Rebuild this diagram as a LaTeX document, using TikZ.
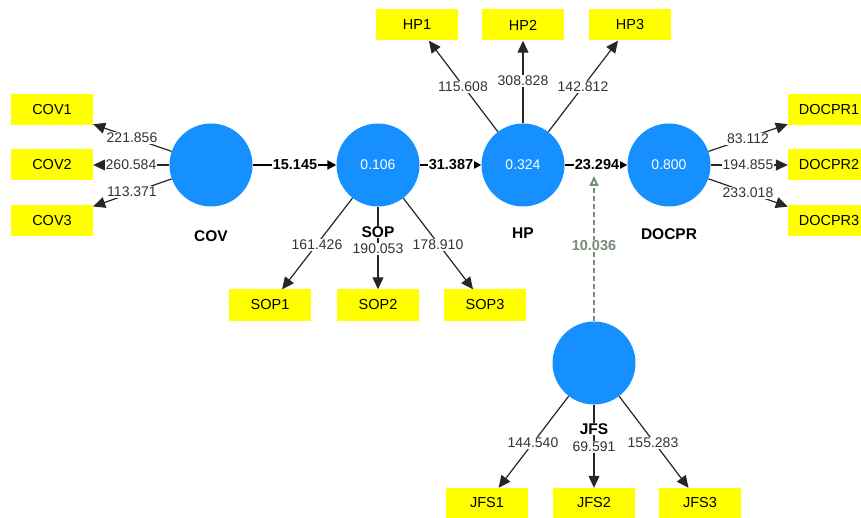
\documentclass[tikz,border=0pt]{standalone}
\usepackage{fontspec}
\setmainfont{Liberation Sans}
\usetikzlibrary{arrows.meta}
\definecolor{latentblue}{RGB}{22,144,255}
\definecolor{itemyellow}{RGB}{255,255,0}
\definecolor{modgreen}{RGB}{120,140,120}

\begin{document}
\begin{tikzpicture}[x=1pt,y=-1pt,
  latent/.style={circle,fill=latentblue,minimum size=83pt,inner sep=0pt,text=white,font=\fontsize{14}{16}\selectfont},
  item/.style={rectangle,fill=itemyellow,minimum width=82pt,minimum height=31pt,inner sep=0pt,font=\fontsize{14.5}{16}\selectfont},
  loading/.style={-{Triangle[length=12pt,width=11pt]},line width=1.2pt,black!85},
  inner/.style={-{Triangle[length=9pt,width=9pt]},line width=2pt},
  modarrow/.style={-{Triangle[open,length=10pt,width=9pt]},dashed,dash pattern=on 5pt off 3pt,line width=2pt,modgreen},
  wt/.style={fill=white,inner sep=1pt,font=\fontsize{14}{16}\selectfont,text=black!80},
  coef/.style={fill=white,inner sep=1pt,font=\bfseries\fontsize{14.5}{16}\selectfont},
  latname/.style={fill=white,inner sep=1pt,font=\bfseries\fontsize{15.5}{17}\selectfont}]
  \clip (0,0) rectangle (861,518);
  \fill[white] (0,0) rectangle (861,518);

  % latent variables
  \node[latent] (cov) at (211,165) {};
  \node[latent] (sop) at (378,165) {0.106};
  \node[latent] (hp) at (523,165) {0.324};
  \node[latent] (docpr) at (669,165) {0.800};
  \node[latent] (jfs) at (594,363) {};

  % indicators
  \node[item] (cov1) at (52,110) {COV1};
  \node[item] (cov2) at (52,165) {COV2};
  \node[item] (cov3) at (52,221) {COV3};
  \node[item] (hp1) at (417,25) {HP1};
  \node[item] (hp2) at (523,25) {HP2};
  \node[item] (hp3) at (630,25) {HP3};
  \node[item] (docpr1) at (829,110) {DOCPR1};
  \node[item] (docpr2) at (829,165) {DOCPR2};
  \node[item] (docpr3) at (829,221) {DOCPR3};
  \node[item] (sop1) at (270,305) {SOP1};
  \node[item] (sop2) at (378,305) {SOP2};
  \node[item] (sop3) at (485,305) {SOP3};
  \node[item,minimum height=30pt] (jfs1) at (487,503) {JFS1};
  \node[item,minimum height=30pt] (jfs2) at (594,503) {JFS2};
  \node[item,minimum height=30pt] (jfs3) at (700,503) {JFS3};

  % outer loadings
  \foreach \lv/\ind in {cov/cov1,cov/cov2,cov/cov3,hp/hp1,hp/hp2,hp/hp3,
    docpr/docpr1,docpr/docpr2,docpr/docpr3,sop/sop1,sop/sop2,sop/sop3,
    jfs/jfs1,jfs/jfs2,jfs/jfs3}
    \draw[loading] (\lv) -- (\ind);

  % structural paths
  \draw[inner] (cov) -- (sop);
  \draw[inner] (sop) -- (hp);
  \draw[inner] (hp) -- (docpr);
  \coordinate (mod) at (594,176);
  \draw[modarrow] (jfs) -- (mod);

  % names
  \node[latname] at (211,236) {COV};
  \node[latname] at (378,232) {SOP};
  \node[latname] at (523,233) {HP};
  \node[latname] at (669,234) {DOCPR};
  \node[latname] at (594,429) {JFS};

  % coefficients
  \node[wt] at (132,138) {221.856};
  \node[wt] at (131,165) {260.584};
  \node[wt] at (132,192) {113.371};
  \node[wt] at (463,87) {115.608};
  \node[wt] at (523,81) {308.828};
  \node[wt] at (583,87) {142.812};
  \node[wt] at (748,139) {83.112};
  \node[wt] at (748,165) {194.855};
  \node[wt] at (748,193) {233.018};
  \node[wt] at (317,245) {161.426};
  \node[wt] at (378,249) {190.053};
  \node[wt] at (438,245) {178.910};
  \node[wt] at (533,443) {144.540};
  \node[wt] at (594,447) {69.591};
  \node[wt] at (653,443) {155.283};
  \node[coef] at (295,165) {15.145};
  \node[coef] at (451,165) {31.387};
  \node[coef] at (597,165) {23.294};
  \node[coef,text=modgreen] at (594,246) {10.036};
\end{tikzpicture}
\end{document}
